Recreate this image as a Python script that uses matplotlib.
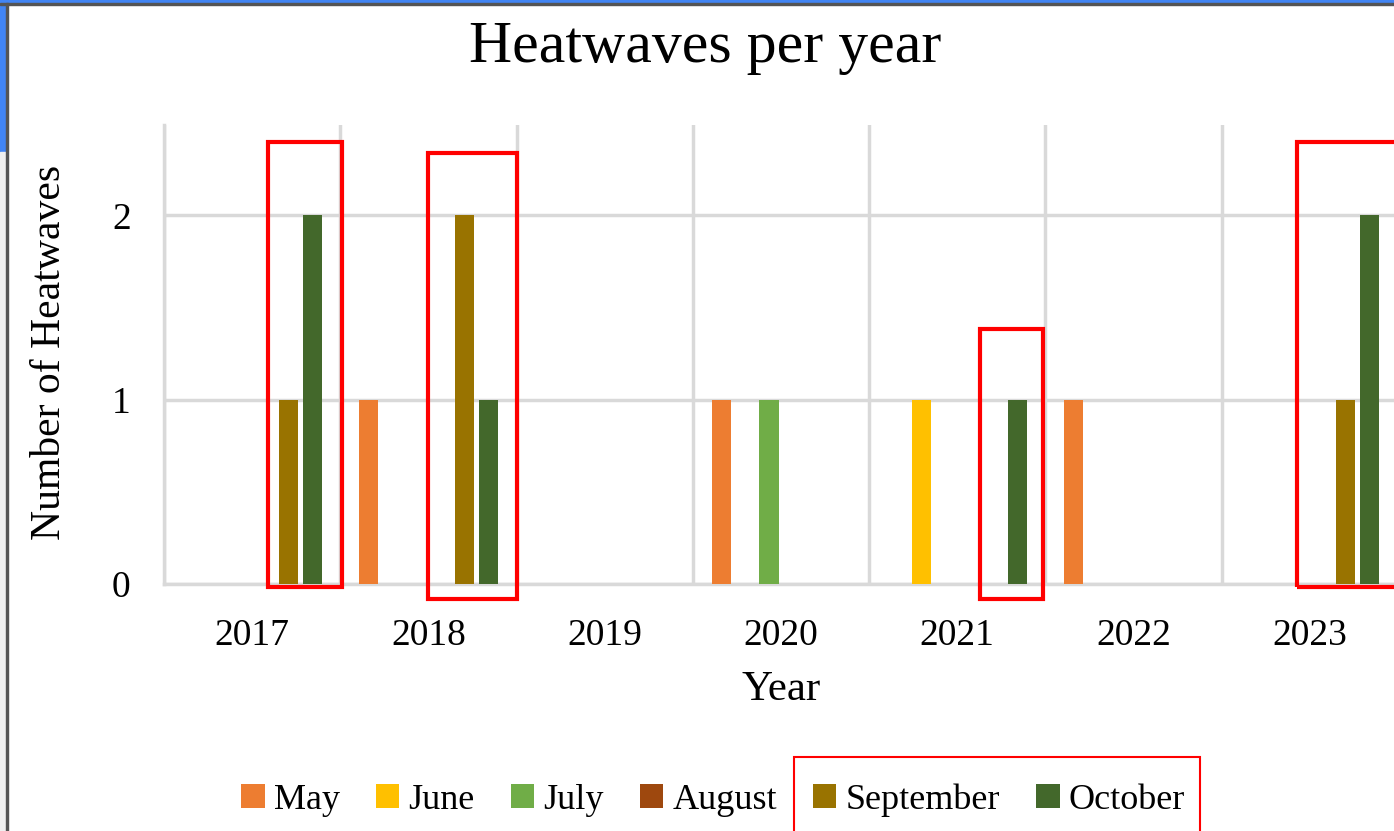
import numpy as np
import matplotlib
matplotlib.use("Agg")
import matplotlib.pyplot as plt
from matplotlib.patches import Rectangle

# datos
years = ["2017", "2018", "2019", "2020", "2021", "2022", "2023"]
months = ["May", "June", "July", "August", "September", "October"]
may = [0, 1, 0, 1, 0, 1, 0]
june = [0, 0, 0, 0, 1, 0, 0]
july = [0, 0, 0, 1, 0, 0, 0]
august = [0, 0, 0, 0, 0, 0, 0]
september = [1, 2, 0, 0, 0, 0, 1]
october = [2, 1, 0, 0, 1, 0, 2]
colors = ["#ED7D31", "#FFC000", "#70AD47", "#9E480E", "#997300", "#43682B"]

W, H = 1394, 831
plt.rcParams['font.family'] = ['Liberation Serif', 'DejaVu Serif']
fig = plt.figure(figsize=(W / 100, H / 100), dpi=100)

# ventana de captura (bordes)
fig.patches.append(Rectangle((0, 1 - 3 / H), 1, 3 / H, transform=fig.transFigure,
                             color="#4285F4", zorder=0))
fig.patches.append(Rectangle((0, 1 - 152 / H), 6 / W, 152 / H, transform=fig.transFigure,
                             color="#4285F4", zorder=0))
fig.patches.append(Rectangle((0, 0), 6 / W, 1 - 152 / H, transform=fig.transFigure,
                             color="#f0f0f0", zorder=0))
fig.patches.append(Rectangle((0, 1 - 5 / H), 1, 2 / H, transform=fig.transFigure,
                             color="#555555", zorder=0))
fig.patches.append(Rectangle((6 / W, 0), 2 / W, 1 - 3 / H, transform=fig.transFigure,
                             color="#555555", zorder=0))

ax = fig.add_axes([164 / W, 1 - 584 / H, (1398 - 164) / W, (584 - 125) / H])
series = [may, june, july, august, september, october]
x = np.arange(len(years))
slot = 0.136
bw = 0.108
for i, (name, vals) in enumerate(zip(months, series)):
    ax.bar(x + (i - 2.5) * slot, vals, width=bw, color=colors[i], label=name, zorder=3)

ax.set_xlim(-0.5, len(years) - 0.5)
ax.set_ylim(0, 2.49)
ax.set_yticks([0, 1, 2])
ax.set_xticks(x)
ax.set_xticklabels(years)
ax.set_xticks(np.arange(len(years) + 1) - 0.5, minor=True)
ax.grid(True, axis="y", which="major", color="#d9d9d9", lw=2.5, zorder=0)
ax.grid(True, axis="x", which="minor", color="#d9d9d9", lw=2.5, zorder=0)
ax.tick_params(which="both", length=0)
ax.tick_params(axis="x", labelsize=27, pad=25)
ax.tick_params(axis="y", labelsize=27, pad=24)
for s in ["top", "right"]:
    ax.spines[s].set_visible(False)
for s in ["left", "bottom"]:
    ax.spines[s].set_color("#d9d9d9")
    ax.spines[s].set_linewidth(2.5)

fig.text(781 / W, 1 - 690 / H, "Year", fontsize=31, ha="center", va="center")
fig.text(50 / W, 1 - 352 / H, "Number of Heatwaves", fontsize=30, rotation=90,
         ha="center", va="center")
fig.text(705 / W, 1 - 48 / H, "Heatwaves per year", fontsize=43, ha="center", va="center")

fig.legend(loc="center", bbox_to_anchor=(713 / W, 1 - 800 / H), ncol=6, frameon=False,
           fontsize=26, handlelength=0.65, handleheight=0.65, handletextpad=0.25,
           columnspacing=1.0)

# recuadros rojos
boxes = [(0.09, -0.016, 0.51, 2.40), (0.997, -0.081, 1.502, 2.336),
         (4.128, -0.081, 4.486, 1.382), (5.926, -0.016, 6.8, 2.40)]
for x0, y0, x1, y1 in boxes:
    ax.add_patch(Rectangle((x0, y0), x1 - x0, y1 - y0, fill=False, ec="red",
                           lw=3, clip_on=False, zorder=5))
fig.patches.append(Rectangle((794 / W, -0.01), (1200 - 794) / W, (831 - 757) / H + 0.01,
                             transform=fig.transFigure, fill=False, ec="red", lw=1.5))

fig.savefig("out.png", dpi=100)
